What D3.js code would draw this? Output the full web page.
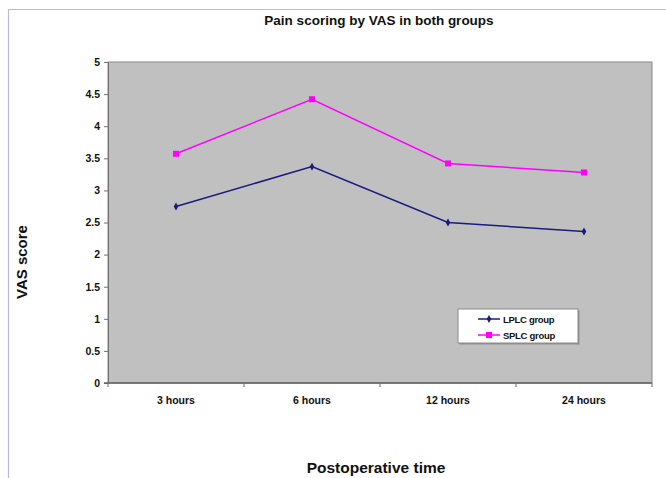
<!DOCTYPE html>
<html>
<head>
<meta charset="utf-8">
<script src="https://cdn.jsdelivr.net/npm/d3@7"></script>
<style>
  html, body { margin: 0; padding: 0; background: #fff; }
  svg { display: block; font-family: "Liberation Sans", Arial, sans-serif; }
</style>
</head>
<body>
<svg id="chart" width="666" height="478"></svg>
<script>
// Postoperative pain (VAS) by group
const categories = ["3 hours", "6 hours", "12 hours", "24 hours"];
const lplcValues = [2.75, 3.37, 2.50, 2.36];
const splcValues = [3.57, 4.42, 3.42, 3.28];
const yTicks = [0, 0.5, 1, 1.5, 2, 2.5, 3, 3.5, 4, 4.5, 5];
const seriesNames = ["LPLC group", "SPLC group"];

const series = [
  { name: seriesNames[0], values: lplcValues, color: "#1a1a80", marker: "diamond" },
  { name: seriesNames[1], values: splcValues, color: "#ff00ff", marker: "square" }
];

const svg = d3.select("#chart");
const plot = { left: 108, top: 62, right: 652, bottom: 383 };

// outer frame lines (top and left edge)
svg.append("line").attr("x1", 8).attr("y1", 9.5).attr("x2", 666).attr("y2", 9.5)
  .attr("stroke", "#b8b8e4").attr("stroke-width", 1.2);
svg.append("line").attr("x1", 8.5).attr("y1", 9).attr("x2", 8.5).attr("y2", 478)
  .attr("stroke", "#b8b8e4").attr("stroke-width", 1.2);

const x = d3.scaleBand().domain(categories).range([plot.left, plot.right]).padding(0);
const y = d3.scaleLinear().domain([0, 5]).range([plot.bottom, plot.top]);

// plot area
svg.append("rect")
  .attr("x", plot.left).attr("y", plot.top)
  .attr("width", plot.right - plot.left).attr("height", plot.bottom - plot.top)
  .attr("fill", "#c0c0c0").attr("stroke", "#8a8a8a").attr("stroke-width", 1);

// y axis
const yAxis = svg.append("g")
  .attr("transform", `translate(${plot.left},0)`)
  .call(d3.axisLeft(y).tickValues(yTicks).tickSize(4).tickPadding(4)
    .tickFormat(d => String(d)));
yAxis.select(".domain").attr("stroke", "#707070");
yAxis.selectAll(".tick line").attr("stroke", "#707070");
yAxis.selectAll("text").attr("font-size", 10.5).attr("font-weight", "bold").attr("fill", "#111");

// x axis: ticks at category boundaries, labels centred in each band
const xAxisG = svg.append("g").attr("transform", `translate(0,${plot.bottom})`);
xAxisG.append("line").attr("x1", plot.left - 4).attr("x2", plot.right)
  .attr("stroke", "#606060").attr("stroke-width", 1.5);
const bounds = categories.map(c => x(c)).concat([x(categories[categories.length - 1]) + x.bandwidth()]);
xAxisG.selectAll(".xt").data(bounds).join("line")
  .attr("x1", d => d).attr("x2", d => d).attr("y1", 0).attr("y2", 4)
  .attr("stroke", "#707070");
xAxisG.selectAll(".xl").data(categories).join("text")
  .attr("x", d => x(d) + x.bandwidth() / 2).attr("y", 21)
  .attr("text-anchor", "middle").attr("font-size", 10.5).attr("font-weight", "bold")
  .attr("fill", "#111").text(d => d);

// series lines and markers
const line = d3.line()
  .x((d, i) => x(categories[i]) + x.bandwidth() / 2)
  .y(d => y(d));

const diamond = d3.symbol().type(d3.symbolDiamond).size(18);
const square = d3.symbol().type(d3.symbolSquare).size(36);

series.forEach(s => {
  svg.append("path").datum(s.values)
    .attr("d", line).attr("fill", "none")
    .attr("stroke", s.color).attr("stroke-width", 1.5);
  svg.append("g").selectAll("path").data(s.values).join("path")
    .attr("d", s.marker === "diamond" ? diamond : square)
    .attr("transform", (d, i) => `translate(${x(categories[i]) + x.bandwidth() / 2},${y(d)})`)
    .attr("fill", s.color);
});

// legend
const lg = svg.append("g").attr("transform", "translate(458,309)");
lg.append("rect").attr("x", 1.5).attr("y", 1.5).attr("width", 120).attr("height", 34)
  .attr("fill", "#909090");
lg.append("rect").attr("x", 0).attr("y", 0).attr("width", 120).attr("height", 34)
  .attr("fill", "#fff").attr("stroke", "#8a8a8a");
series.forEach((s, i) => {
  const yy = 10 + i * 16;
  lg.append("line").attr("x1", 20).attr("x2", 42).attr("y1", yy).attr("y2", yy)
    .attr("stroke", s.color).attr("stroke-width", 1.5);
  lg.append("path").attr("d", s.marker === "diamond" ? diamond : square)
    .attr("transform", `translate(31,${yy})`).attr("fill", s.color);
  lg.append("text").attr("x", 45).attr("y", yy + 3.5)
    .attr("font-size", 9.5).attr("font-weight", "bold").attr("letter-spacing", -0.3)
    .attr("fill", "#111").text(s.name);
});

// titles
svg.append("text").attr("x", 379).attr("y", 25).attr("text-anchor", "middle")
  .attr("font-size", 13.5).attr("font-weight", "bold").attr("fill", "#111")
  .text("Pain scoring by VAS in both groups");
svg.append("text").attr("x", 376).attr("y", 473).attr("text-anchor", "middle")
  .attr("font-size", 15.5).attr("font-weight", "bold").attr("fill", "#111")
  .text("Postoperative time");
svg.append("text").attr("transform", "translate(27,262) rotate(-90)")
  .attr("text-anchor", "middle")
  .attr("font-size", 15).attr("font-weight", "bold").attr("fill", "#111")
  .text("VAS score");
</script>
</body>
</html>
